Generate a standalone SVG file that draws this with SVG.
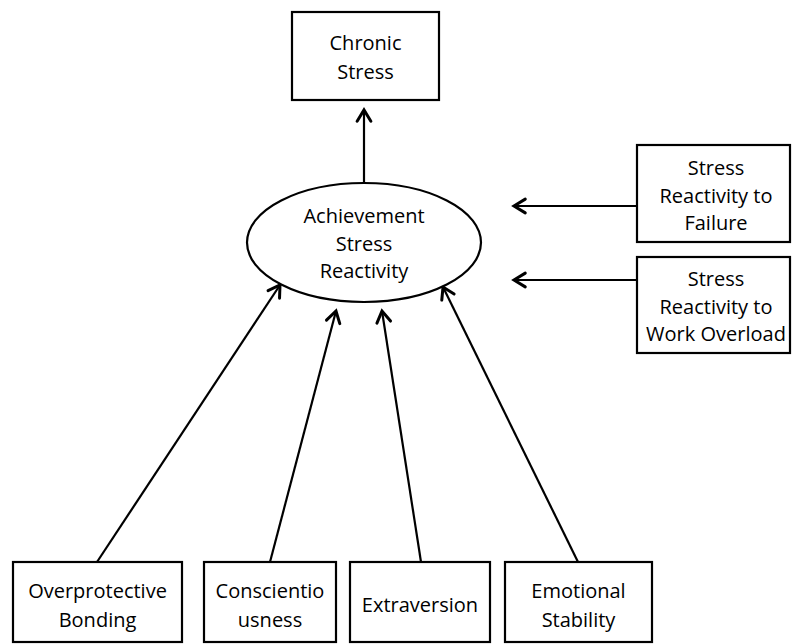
<svg xmlns="http://www.w3.org/2000/svg" width="793" height="644" viewBox="0 0 793 644">
<defs>
<style>
.box{fill:#fff;stroke:#000;stroke-width:2.2}
.t{font-family:"Open Sans","Liberation Sans",sans-serif;font-size:20px;fill:#000;text-anchor:middle}
.c{stroke:#000;stroke-width:2.2;fill:none}
</style>
<marker id="ah" markerUnits="userSpaceOnUse" markerWidth="20" markerHeight="20" viewBox="-12 -8 14 16" refX="0" refY="0" orient="auto">
<path d="M-9,-5.5 L0,0 L-9,5.5" fill="none" stroke="#000" stroke-width="2.4" stroke-linecap="round" stroke-linejoin="miter"/>
</marker>
</defs>
<rect width="793" height="644" fill="#fff"/>
<g id="connectors">
<line class="c" x1="364" y1="183" x2="364" y2="110" marker-end="url(#ah)"/>
<line class="c" x1="637" y1="206" x2="514" y2="206" marker-end="url(#ah)"/>
<line class="c" x1="637" y1="280" x2="514" y2="280" marker-end="url(#ah)"/>
<line class="c" x1="97" y1="562" x2="280" y2="285" marker-end="url(#ah)"/>
<line class="c" x1="270" y1="562" x2="336" y2="311" marker-end="url(#ah)"/>
<line class="c" x1="421" y1="562" x2="382" y2="311" marker-end="url(#ah)"/>
<line class="c" x1="578" y1="562" x2="443" y2="287" marker-end="url(#ah)"/>
</g>
<g id="chronic-stress">
<rect class="box" x="292" y="12" width="147" height="88"/>
<text class="t" x="365.5" y="50">Chronic</text>
<text class="t" x="365.5" y="79">Stress</text>
</g>
<g id="achievement-stress-reactivity">
<ellipse class="box" cx="364" cy="242.5" rx="117" ry="59.5"/>
<text class="t" x="364" y="223">Achievement</text>
<text class="t" x="364" y="251">Stress</text>
<text class="t" x="364" y="278">Reactivity</text>
</g>
<g id="reactivity-failure">
<rect class="box" x="637" y="145" width="153" height="97"/>
<text class="t" x="716" y="175">Stress</text>
<text class="t" x="716" y="203">Reactivity to</text>
<text class="t" x="716" y="230">Failure</text>
</g>
<g id="reactivity-overload">
<rect class="box" x="637" y="257" width="153" height="96"/>
<text class="t" x="716" y="286">Stress</text>
<text class="t" x="716" y="314">Reactivity to</text>
<text class="t" x="716" y="341">Work Overload</text>
</g>
<g id="overprotective-bonding">
<rect class="box" x="13" y="562" width="169" height="80"/>
<text class="t" x="97.5" y="598">Overprotective</text>
<text class="t" x="97.5" y="627">Bonding</text>
</g>
<g id="conscientiousness">
<rect class="box" x="204" y="562" width="132" height="80"/>
<text class="t" x="270" y="598">Conscientio</text>
<text class="t" x="270" y="627">usness</text>
</g>
<g id="extraversion">
<rect class="box" x="350" y="562" width="140" height="80"/>
<text class="t" x="420" y="612">Extraversion</text>
</g>
<g id="emotional-stability">
<rect class="box" x="505" y="562" width="147" height="80"/>
<text class="t" x="578.5" y="598">Emotional</text>
<text class="t" x="578.5" y="627">Stability</text>
</g>
</svg>
